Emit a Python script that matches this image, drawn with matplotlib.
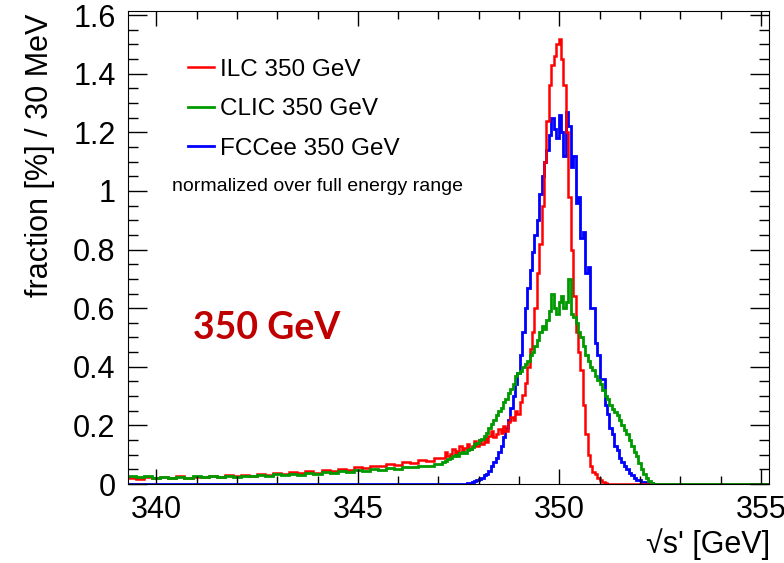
import numpy as np
import matplotlib.pyplot as plt
from matplotlib.ticker import MultipleLocator, FormatStrFormatter

plt.rcParams['font.family'] = ['Liberation Sans', 'DejaVu Sans']

# binning: coarse 0.2 GeV bins in the low tail, 60 MeV bins around the peak
tail_edges = np.round(np.arange(339.3, 347.1001, 0.2), 3)
peak_edges = np.round(np.arange(347.16, 352.5001, 0.06), 3)
edges = np.concatenate([tail_edges, peak_edges, [355.3]])

# fraction [%] per bin
ilc_tail = [0.022, 0.018, 0.025, 0.020, 0.024, 0.019, 0.026, 0.021, 0.025, 0.023,
            0.028, 0.024, 0.030, 0.026, 0.031, 0.028, 0.034, 0.030, 0.036, 0.033,
            0.040, 0.036, 0.043, 0.039, 0.047, 0.044, 0.052, 0.048, 0.057, 0.053,
            0.062, 0.060, 0.068, 0.066, 0.075, 0.072, 0.082, 0.080, 0.088]
clic_tail = [0.028, 0.024, 0.027, 0.022, 0.025, 0.021, 0.024, 0.022, 0.026, 0.023,
             0.027, 0.024, 0.028, 0.025, 0.029, 0.027, 0.031, 0.028, 0.033, 0.030,
             0.035, 0.032, 0.038, 0.035, 0.041, 0.038, 0.044, 0.041, 0.047, 0.045,
             0.050, 0.048, 0.054, 0.052, 0.058, 0.057, 0.063, 0.062, 0.068]
fcc_tail = [0.0] * 39

ilc_peak = [0.090, 0.108, 0.095, 0.102, 0.118, 0.100, 0.112, 0.128, 0.110, 0.122,
            0.136, 0.118, 0.130, 0.146, 0.128, 0.150, 0.136, 0.158, 0.142, 0.165,
            0.180, 0.160, 0.172, 0.188, 0.175, 0.198, 0.182, 0.212, 0.230, 0.218,
            0.250, 0.238, 0.280, 0.305, 0.345, 0.400, 0.460, 0.520, 0.600, 0.720,
            0.820, 0.950, 1.100, 1.240, 1.360, 1.430, 1.460, 1.500, 1.520, 1.450,
            1.360, 1.200, 0.980, 0.800, 0.640, 0.520, 0.450, 0.390, 0.270, 0.170,
            0.100, 0.060, 0.040, 0.035, 0.020, 0.012, 0.006, 0.003, 0.0, 0.0,
            0.0, 0.0, 0.0, 0.0, 0.0, 0.0, 0.0, 0.0, 0.0, 0.0,
            0.0, 0.0, 0.0, 0.0, 0.0, 0.0, 0.0, 0.0, 0.0, 0.0]
clic_peak = [0.075, 0.080, 0.085, 0.090, 0.095, 0.100, 0.095, 0.105, 0.110, 0.105,
             0.115, 0.120, 0.125, 0.135, 0.140, 0.150, 0.155, 0.165, 0.175, 0.190,
             0.205, 0.220, 0.235, 0.250, 0.260, 0.280, 0.290, 0.310, 0.325, 0.340,
             0.370, 0.380, 0.385, 0.400, 0.410, 0.420, 0.440, 0.450, 0.470, 0.490,
             0.520, 0.540, 0.530, 0.560, 0.590, 0.650, 0.600, 0.580, 0.620, 0.640,
             0.600, 0.620, 0.700, 0.580, 0.570, 0.550, 0.520, 0.500, 0.470, 0.440,
             0.420, 0.400, 0.390, 0.370, 0.355, 0.340, 0.320, 0.300, 0.290, 0.270,
             0.255, 0.245, 0.235, 0.220, 0.200, 0.185, 0.170, 0.150, 0.130, 0.110,
             0.095, 0.070, 0.050, 0.035, 0.020, 0.010, 0.004, 0.0, 0.0, 0.0]
fcc_peak = [0.0, 0.0, 0.0, 0.0, 0.0, 0.0, 0.0, 0.0, 0.0, 0.0,
            0.002, 0.004, 0.006, 0.010, 0.012, 0.018, 0.022, 0.030, 0.035, 0.045,
            0.060, 0.075, 0.090, 0.110, 0.130, 0.160, 0.190, 0.220, 0.260, 0.300,
            0.340, 0.380, 0.440, 0.520, 0.600, 0.670, 0.730, 0.790, 0.850, 0.900,
            0.990, 1.050, 1.100, 1.140, 1.190, 1.250, 1.210, 1.180, 1.260, 1.200,
            1.120, 1.270, 1.220, 1.080, 1.120, 0.960, 0.980, 0.840, 0.860, 0.720,
            0.740, 0.600, 0.600, 0.480, 0.440, 0.360, 0.360, 0.270, 0.240, 0.190,
            0.170, 0.130, 0.115, 0.090, 0.075, 0.060, 0.050, 0.038, 0.030, 0.022,
            0.015, 0.012, 0.008, 0.006, 0.004, 0.003, 0.002, 0.001, 0.0, 0.0]

ilc = ilc_tail + ilc_peak + [0.0]
clic = clic_tail + clic_peak + [0.0]
fcc = fcc_tail + fcc_peak + [0.0]

fig = plt.figure(figsize=(7.84, 5.63), dpi=100)
ax = fig.add_axes([0.1633, 0.1403, 0.8176, 0.8402])

ax.stairs(fcc, edges, color='#0000ff', lw=2.0, baseline=None, label='FCCee 350 GeV')
ax.stairs(ilc, edges, color='#ff0000', lw=1.8, baseline=None, label='ILC 350 GeV')
ax.stairs(clic, edges, color='#009a00', lw=2.0, baseline=None, label='CLIC 350 GeV')

ax.set_xlim(339.3, 355.2)
ax.set_ylim(0, 1.614)

ax.xaxis.set_major_locator(MultipleLocator(5))
ax.xaxis.set_minor_locator(MultipleLocator(1))
ax.yaxis.set_major_locator(MultipleLocator(0.2))
ax.yaxis.set_minor_locator(MultipleLocator(0.05))
ax.yaxis.set_major_formatter(FormatStrFormatter('%g'))
ax.xaxis.set_major_formatter(FormatStrFormatter('%g'))
ax.tick_params(which='both', direction='in', top=True, right=True, labelsize=22, width=1)
ax.tick_params(axis='x', which='major', length=11, pad=8)
ax.tick_params(axis='x', which='minor', length=6)
ax.tick_params(axis='y', which='major', length=14, pad=9)
ax.tick_params(axis='y', which='minor', length=7)

fig.text(0.051, 0.725, 'fraction [%] / 30 MeV', rotation=90, ha='center', va='center', fontsize=22)
fig.text(0.982, 0.006, "√s' [GeV]", ha='right', va='bottom', fontsize=22)

handles, labels = ax.get_legend_handles_labels()
order = [1, 2, 0]
ax.legend([handles[i] for i in order], [labels[i] for i in order],
          loc='upper left', bbox_to_anchor=(0.075, 0.925), frameon=False,
          fontsize=17.5, handlelength=1.05, handletextpad=0.25, labelspacing=0.72,
          borderpad=0)

ax.text(0.0686, 0.628, 'normalized over full energy range', transform=ax.transAxes,
        ha='left', va='center', fontsize=14)
ax.text(0.101, 0.330, '350 GeV', transform=ax.transAxes, ha='left', va='center',
        fontsize=27, fontweight='bold', color='#c00000', family=['Lato', 'DejaVu Sans'])

fig.savefig('out.png', dpi=100)
